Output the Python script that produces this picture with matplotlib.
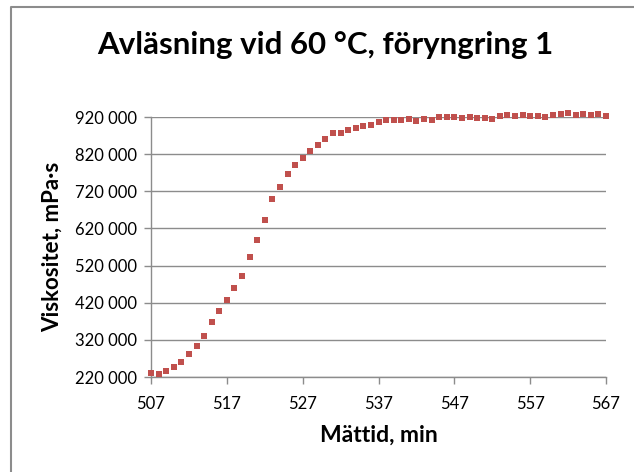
import matplotlib
matplotlib.use('Agg')
import matplotlib.pyplot as plt
from matplotlib.lines import Line2D
from matplotlib.ticker import FuncFormatter

# Mättid (min) och viskositet (mPa·s)
mattid = list(range(507, 568))
viskositet = [
    230900, 227300, 237200, 246200, 261500, 282000, 303700, 329800, 367600, 396400,
    427000, 459400, 491700, 542100, 588900, 641900, 698600, 731000, 767000, 791300,
    809300, 827200, 845200, 861400, 875800, 875800, 884800, 889300, 894700, 899200,
    906400, 911800, 911800, 910900, 913600, 909900, 914500, 911800, 919000, 919900,
    919900, 918100, 919900, 918100, 917200, 915400, 921700, 925300, 921700, 924400,
    922600, 922600, 919000, 924400, 928000, 929800, 924400, 928000, 924400, 927100,
    922600,
]
x_ticks = list(range(507, 568, 10))
y_ticks = list(range(220000, 920001, 100000))

plt.rcParams['font.family'] = ['Lato', 'DejaVu Sans']

fig = plt.figure(figsize=(6.34, 4.72), dpi=100)
W, H = 634, 472
ax = fig.add_axes([151 / W, 1 - 377 / H, (606 - 151) / W, (377 - 117) / H])

ax.plot(mattid, viskositet, linestyle='none', marker='s', markersize=3.8,
        color='#C0504D', markeredgewidth=0, clip_on=False, zorder=3)

ax.set_xlim(507, 567)
ax.set_ylim(220000, 920000)
ax.set_xticks(x_ticks)
ax.set_yticks(y_ticks)
ax.yaxis.set_major_formatter(FuncFormatter(lambda v, p: f"{int(v):,}".replace(',', ' ')))

grid_col = '#8c8c8c'
ax.grid(axis='y', color=grid_col, linewidth=1.0)
ax.set_axisbelow(True)
for s in ['top', 'right']:
    ax.spines[s].set_visible(False)
for s in ['left', 'bottom']:
    ax.spines[s].set_color(grid_col)
    ax.spines[s].set_linewidth(1.0)
ax.tick_params(axis='both', direction='out', length=5, width=1.0, color=grid_col,
               labelsize=12, labelcolor='black')
ax.tick_params(axis='x', pad=9)
ax.tick_params(axis='y', pad=5)

ax.set_xlabel('Mättid, min', fontsize=16.5, fontweight='bold', labelpad=9)
ax.set_ylabel('Viskositet, mPa·s', fontsize=16, fontweight='bold', labelpad=9)
fig.text(325 / W, 1 - 45 / H, 'Avläsning vid 60 °C, föryngring 1', ha='center', va='center',
         fontsize=22.5, fontweight='bold')

# ram runt diagrammet
fig.add_artist(Line2D([11 / W, 11 / W, 1.0], [0.0, 1 - 7 / H, 1 - 7 / H],
                      transform=fig.transFigure, color='#8c8c8c', linewidth=1.5))

fig.savefig('out.png', dpi=100)
